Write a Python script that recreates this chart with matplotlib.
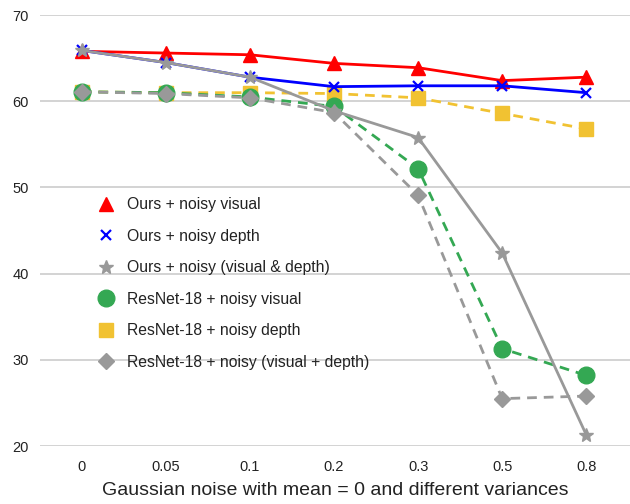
import numpy as np
import matplotlib as mpl
mpl.use('Agg')
import matplotlib.pyplot as plt

plt.rcParams['font.family'] = ['Liberation Sans', 'DejaVu Sans']

# data
variances = ['0', '0.05', '0.1', '0.2', '0.3', '0.5', '0.8']
ours_visual = [65.8, 65.6, 65.4, 64.4, 63.9, 62.4, 62.8]
ours_depth = [65.9, 64.5, 62.8, 61.7, 61.8, 61.8, 61.0]
ours_both = [65.9, 64.5, 62.8, 58.9, 55.8, 42.4, 21.3]
resnet_visual = [61.1, 61.0, 60.5, 59.4, 52.2, 31.3, 28.2]
resnet_depth = [61.1, 61.0, 61.0, 60.9, 60.4, 58.6, 56.8]
resnet_both = [61.1, 60.9, 60.4, 58.7, 49.1, 25.5, 25.8]

x = np.arange(len(variances))

fig = plt.figure(figsize=(6.3, 5.04), dpi=100)
ax = fig.add_axes([0.063, 0.115, 0.937, 0.855])

dash = (3.5, 2.5)
ax.plot(x, resnet_depth, color='#f1c232', lw=2, ls=(0, dash), marker='s', ms=10,
        label='ResNet-18 + noisy depth', zorder=2)
ax.plot(x, resnet_visual, color='#34a853', lw=2, ls=(0, dash), marker='o', ms=12,
        label='ResNet-18 + noisy visual', zorder=2)
ax.plot(x, resnet_both, color='#999999', lw=2, ls=(0, dash), marker='D', ms=8.5,
        label='ResNet-18 + noisy (visual + depth)', zorder=2)
ax.plot(x, ours_visual, color='#ff0000', lw=2, marker='^', ms=10,
        label='Ours + noisy visual', zorder=3)
ax.plot(x, ours_depth, color='#0000ff', lw=2, marker='x', ms=7, mew=1.6,
        label='Ours + noisy depth', zorder=3)
ax.plot(x, ours_both, color='#999999', lw=2, marker='*', ms=10,
        label='Ours + noisy (visual & depth)', zorder=3)

ax.set_xlim(-0.5, 6.52)
ax.set_ylim(20, 70)
ax.set_yticks([20, 30, 40, 50, 60, 70])
ax.set_xticks(x)
ax.set_xticklabels(variances)
ax.tick_params(axis='both', length=0, labelsize=10.5, colors='#222222')
ax.tick_params(axis='x', pad=10)
ax.tick_params(axis='y', pad=8)
ax.grid(axis='y', color='#cccccc', lw=1.2)
ax.set_axisbelow(True)
for s in ax.spines.values():
    s.set_visible(False)

ax.set_xlabel('Gaussian noise with mean = 0 and different variances', fontsize=14, color='#222222', labelpad=6)

handles, labels = ax.get_legend_handles_labels()
order = [3, 4, 5, 1, 0, 2]
leg = ax.legend([handles[i] for i in order], [labels[i] for i in order],
                loc='upper left', bbox_to_anchor=(0.073, 0.61), frameon=False,
                fontsize=11.3, handlelength=1.2, labelspacing=1.05, handletextpad=0.7)
for h in leg.legend_handles:
    h.set_linestyle('none')
for t in leg.get_texts():
    t.set_color('#222222')

plt.savefig('out.png', dpi=100)
plt.close()
